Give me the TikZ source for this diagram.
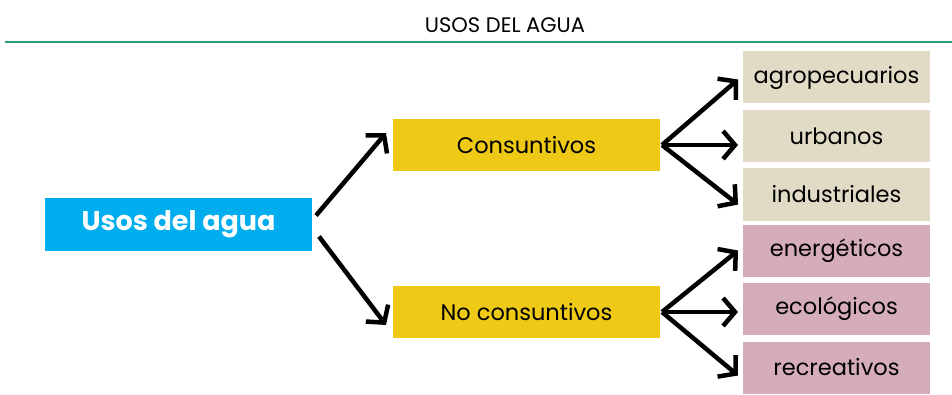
\documentclass[tikz,border=0pt]{standalone}
\usepackage{fontspec}
\setmainfont{Poppins}
\usetikzlibrary{arrows.meta,positioning}
\definecolor{skyblue}{HTML}{00AEEF}
\definecolor{mustard}{HTML}{EECA16}
\definecolor{sand}{HTML}{E1DBC6}
\definecolor{mauve}{HTML}{D5ADB8}
\definecolor{rulegreen}{HTML}{2A9D74}

\begin{document}
\begin{tikzpicture}[
  x=1pt,y=1pt,
  node distance=6.5pt,
  box/.style={inner sep=0pt,outer sep=0pt,minimum height=52pt,align=center,font=\fontsize{22.5}{26}\selectfont},
  leaf/.style={box,minimum width=187pt},
  arrow/.style={-{Straight Barb[length=12pt,width=28pt]},line width=4.5pt}
]
\useasboundingbox (0,0) rectangle (952,394);
\node[font=\fontsize{21}{24}\selectfont] (title) at (505,369) {USOS DEL AGUA};
\draw[rulegreen,line width=2pt] (5,352) coordinate (rulestart) -- (952,352) coordinate (ruleend);
\node[box,fill=skyblue,minimum width=267pt,minimum height=53pt,text=white,font=\bfseries\fontsize{27}{30}\selectfont] (usos) at (178.5,169.5) {Usos del agua};
\node[box,fill=mustard,minimum width=267pt,right=81pt of usos,yshift=79.5pt] (cons) {Consuntivos};
\node[box,fill=mustard,minimum width=267pt,below=115pt of cons] (nocons) {No consuntivos};
\node[leaf,fill=sand,right=83pt of cons,yshift=67.5pt] (agro) {agropecuarios};
\node[leaf,fill=sand,below=of agro] (urb) {urbanos};
\node[leaf,fill=sand,below=of urb] (ind) {industriales};
\node[leaf,fill=mauve,below=4pt of ind] (ener) {energéticos};
\node[leaf,fill=mauve,below=of ener] (eco) {ecológicos};
\node[leaf,fill=mauve,below=of eco] (recr) {recreativos};
\draw[arrow] ([xshift=4pt,yshift=9pt]usos.east) -- ([xshift=-7pt,yshift=12pt]cons.west);
\draw[arrow] ([xshift=7pt,yshift=-12pt]usos.east) -- ([xshift=-7pt,yshift=-13pt]nocons.west);
\draw[arrow] ([xshift=2pt]cons.east) -- ([xshift=-5pt,yshift=-2pt]agro.west);
\draw[arrow] ([xshift=2pt]cons.east) -- ([xshift=-5pt]urb.west |- cons.east);
\draw[arrow] ([xshift=2pt]cons.east) -- ([xshift=-5pt,yshift=-10pt]ind.west);
\draw[arrow] ([xshift=2pt]nocons.east) -- ([xshift=-5pt]ener.west);
\draw[arrow] ([xshift=2pt]nocons.east) -- ([xshift=-5pt]eco.west |- nocons.east);
\draw[arrow] ([xshift=2pt]nocons.east) -- ([xshift=-5pt,yshift=-8pt]recr.west);
\end{tikzpicture}
\end{document}
